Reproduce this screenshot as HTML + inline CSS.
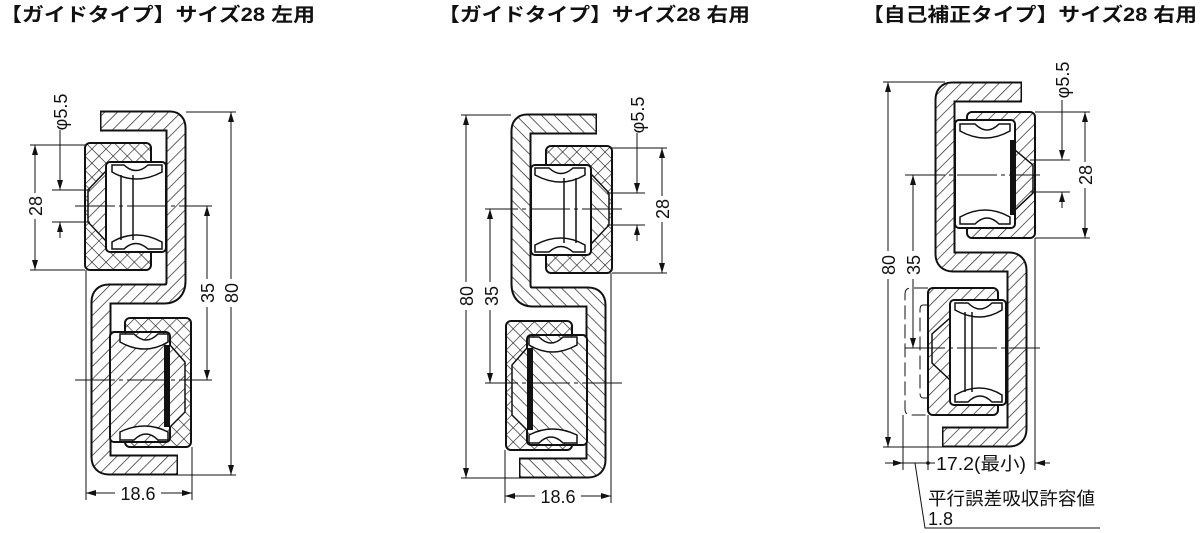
<!DOCTYPE html>
<html><head><meta charset="utf-8"><style>
html,body{margin:0;padding:0;background:#fff;width:1201px;height:533px;overflow:hidden}
svg{display:block}
text{font-family:"Liberation Sans","Noto Sans CJK JP",sans-serif;fill:#111}
</style></head><body>
<svg width="1201" height="533" viewBox="0 0 1201 533" xmlns="http://www.w3.org/2000/svg">
<defs>
<pattern id="h" width="9" height="9" patternUnits="userSpaceOnUse" patternTransform="rotate(45)">
<rect width="9" height="9" fill="#fff"/><line x1="0" y1="0" x2="0" y2="9" stroke="#222" stroke-width="1.4"/></pattern>
<pattern id="x" width="10" height="10" patternUnits="userSpaceOnUse" patternTransform="rotate(45)">
<rect width="10" height="10" fill="#fff"/><line x1="0" y1="0" x2="0" y2="10" stroke="#222" stroke-width="1.3"/><line x1="0" y1="0" x2="10" y2="0" stroke="#222" stroke-width="1.3"/></pattern>
<marker id="a" viewBox="0 0 10 6" refX="10" refY="3" markerWidth="11" markerHeight="6" orient="auto-start-reverse" markerUnits="userSpaceOnUse"><path d="M0,0 L10,3 L0,6z" fill="#111"/></marker>
<g id="f1">
<path d="M100,121 H170 Q176,121 176,128 V281 Q176,294 164,294 H109 Q101,294 101,302 V457 Q101,465 109,465 H178" fill="none" stroke="#111" stroke-width="21"/>
<path d="M101.5,121 H170 Q176,121 176,128 V281 Q176,294 164,294 H109 Q101,294 101,302 V457 Q101,465 109,465 H176.5" fill="none" stroke="url(#h)" stroke-width="17"/>
<rect x="85" y="143" width="66" height="127" rx="5" fill="url(#x)" stroke="#111" stroke-width="2"/>
<path d="M88,190 L105,172 H120 V240 H105 L88,222z" fill="url(#h)" stroke="#111" stroke-width="1.5"/>
<rect x="106" y="162" width="60" height="90" rx="4" fill="#fff" stroke="#111" stroke-width="2"/>
<path d="M112,165 H124 Q136,176 148,165 H162 V172 Q136,186 112,172z M112,249 H124 Q136,238 148,249 H162 V242 Q136,228 112,242z" fill="#fff" stroke="#111" stroke-width="1.5"/>
<line x1="121" y1="175" x2="121" y2="240" stroke="#111" stroke-width="1.5"/>
<line x1="133" y1="175" x2="133" y2="240" stroke="#111" stroke-width="1.5"/>
<rect x="125" y="318" width="66" height="129" rx="5" fill="url(#x)" stroke="#111" stroke-width="2"/>
<rect x="110" y="332" width="60" height="110" rx="4" fill="url(#h)" stroke="#111" stroke-width="2"/>
<path d="M120,334 H134 Q146,346 158,334 H168 V342 Q145,356 120,342z M120,440 H134 Q146,428 158,440 H168 V432 Q145,420 120,432z" fill="#fff" stroke="#111" stroke-width="1.5"/>
<rect x="164" y="345" width="6" height="82" fill="#111"/>
<path d="M170,345 L185,362 V412 L170,427" fill="url(#h)" stroke="#111" stroke-width="1.5"/>
<line x1="75" y1="206" x2="212" y2="206" stroke="#111" stroke-width="1" stroke-dasharray="40,4,4,4"/>
<line x1="75" y1="380" x2="212" y2="380" stroke="#111" stroke-width="1" stroke-dasharray="40,4,4,4"/>
<g stroke="#111" stroke-width="1" fill="none">
<line x1="30" y1="145" x2="85" y2="145"/><line x1="30" y1="270" x2="85" y2="270"/>
<line x1="35" y1="145" x2="35" y2="270" marker-start="url(#a)" marker-end="url(#a)"/>
<line x1="52" y1="190" x2="90" y2="190"/><line x1="52" y1="222" x2="90" y2="222"/>
<line x1="60" y1="130" x2="60" y2="190" marker-end="url(#a)"/><line x1="60" y1="238" x2="60" y2="222" marker-end="url(#a)"/>
<line x1="186" y1="112" x2="236" y2="112"/><line x1="178" y1="475" x2="236" y2="475"/>
<line x1="231" y1="112" x2="231" y2="475" marker-start="url(#a)" marker-end="url(#a)"/>
<line x1="207" y1="206" x2="207" y2="380" marker-start="url(#a)" marker-end="url(#a)"/>
<line x1="86" y1="270" x2="86" y2="500"/><line x1="192" y1="447" x2="192" y2="500"/>
<line x1="86" y1="493" x2="192" y2="493" marker-start="url(#a)" marker-end="url(#a)"/>
</g>
</g>
</defs>

<text x="0" y="21" font-size="19" font-weight="bold" textLength="315" lengthAdjust="spacingAndGlyphs">【ガイドタイプ】サイズ28 左用</text>
<text x="438" y="21" font-size="19" font-weight="bold" textLength="312" lengthAdjust="spacingAndGlyphs">【ガイドタイプ】サイズ28 右用</text>
<text x="862" y="21" font-size="19" font-weight="bold" textLength="335" lengthAdjust="spacingAndGlyphs">【自己補正タイプ】サイズ28 右用</text>

<use href="#f1"/>
<use href="#f1" transform="translate(697,3) scale(-1,1)"/>

<g font-size="18">
<rect x="27" y="193" width="16" height="26" fill="#fff"/>
<text transform="translate(42,206) rotate(-90)" text-anchor="middle">28</text>
<text transform="translate(67,112) rotate(-90)" text-anchor="middle">φ5.5</text>
<rect x="199" y="279" width="16" height="28" fill="#fff"/>
<text transform="translate(214,293) rotate(-90)" text-anchor="middle">35</text>
<rect x="223" y="279" width="16" height="28" fill="#fff"/>
<text transform="translate(238,293) rotate(-90)" text-anchor="middle">80</text>
<rect x="115" y="483" width="46" height="20" fill="#fff"/>
<text x="138" y="500" text-anchor="middle">18.6</text>
</g>
<g font-size="18">
<rect x="654" y="196" width="16" height="26" fill="#fff"/>
<text transform="translate(669,209) rotate(-90)" text-anchor="middle">28</text>
<text transform="translate(644,115) rotate(-90)" text-anchor="middle">φ5.5</text>
<rect x="482" y="282" width="16" height="28" fill="#fff"/>
<text transform="translate(498,296) rotate(-90)" text-anchor="middle">35</text>
<rect x="458" y="282" width="16" height="28" fill="#fff"/>
<text transform="translate(473,296) rotate(-90)" text-anchor="middle">80</text>
<rect x="535" y="486" width="46" height="20" fill="#fff"/>
<text x="558" y="503" text-anchor="middle">18.6</text>
</g>

<g>
<path d="M1022,92 H952 Q945,92 945,100 V254 Q945,262 953,262 H1009 Q1017,262 1017,270 V429 Q1017,437 1009,437 H942" fill="none" stroke="#111" stroke-width="21"/>
<path d="M1020.5,92 H952 Q945,92 945,100 V254 Q945,262 953,262 H1009 Q1017,262 1017,270 V429 Q1017,437 1009,437 H943.5" fill="none" stroke="url(#h)" stroke-width="17"/>
<rect x="967" y="112" width="68" height="126" rx="5" fill="url(#h)" stroke="#111" stroke-width="2"/>
<rect x="955" y="120" width="60" height="108" rx="4" fill="#fff" stroke="#111" stroke-width="2"/>
<path d="M960,124 H975 Q987,136 999,124 H1010 V131 Q985,145 960,131z M960,224 H975 Q987,212 999,224 H1010 V217 Q985,203 960,217z" fill="#fff" stroke="#111" stroke-width="1.5"/>
<rect x="1010" y="140" width="5" height="75" fill="#111"/>
<path d="M1015,150 L1033,165 V193 L1015,210" fill="none" stroke="#111" stroke-width="1.5"/>
<rect x="928" y="288" width="70" height="127" rx="5" fill="url(#h)" stroke="#111" stroke-width="2"/>
<rect x="950" y="300" width="56" height="105" rx="4" fill="#fff" stroke="#111" stroke-width="2"/>
<path d="M955,303 H968 Q980,315 992,303 H1002 V310 Q980,324 955,310z M955,402 H968 Q980,390 992,402 H1002 V395 Q980,381 955,395z" fill="#fff" stroke="#111" stroke-width="1.5"/>
<line x1="965" y1="312" x2="965" y2="392" stroke="#111" stroke-width="1.5"/>
<line x1="972" y1="312" x2="972" y2="392" stroke="#111" stroke-width="1.5"/>
<path d="M950,318 L932,334 V363 L950,380" fill="none" stroke="#111" stroke-width="1.5"/>
<path d="M928,288 H911 Q905,288 905,294 V409 Q905,415 911,415 H928" fill="none" stroke="#111" stroke-width="1" stroke-dasharray="14,5"/>
<path d="M928,305 H923 Q920,305 920,310 V393 Q920,398 923,398 H928" fill="none" stroke="#111" stroke-width="1" stroke-dasharray="14,5"/>
<line x1="905" y1="175" x2="1040" y2="175" stroke="#111" stroke-width="1" stroke-dasharray="40,4,4,4"/>
<line x1="905" y1="348" x2="1040" y2="348" stroke="#111" stroke-width="1" stroke-dasharray="40,4,4,4"/>
<g stroke="#111" stroke-width="1" fill="none">
<line x1="883" y1="82" x2="945" y2="82"/><line x1="883" y1="447" x2="942" y2="447"/>
<line x1="888" y1="82" x2="888" y2="447" marker-start="url(#a)" marker-end="url(#a)"/>
<line x1="913" y1="175" x2="913" y2="348" marker-start="url(#a)" marker-end="url(#a)"/>
<line x1="1035" y1="112" x2="1090" y2="112"/><line x1="1035" y1="238" x2="1090" y2="238"/>
<line x1="1085" y1="112" x2="1085" y2="238" marker-start="url(#a)" marker-end="url(#a)"/>
<line x1="1030" y1="160" x2="1070" y2="160"/><line x1="1030" y1="192" x2="1070" y2="192"/>
<line x1="1062" y1="100" x2="1062" y2="160" marker-end="url(#a)"/><line x1="1062" y1="208" x2="1062" y2="192" marker-end="url(#a)"/>
<line x1="903" y1="415" x2="903" y2="470"/><line x1="928" y1="415" x2="928" y2="470"/><line x1="1035" y1="238" x2="1035" y2="470"/>
<line x1="885" y1="463" x2="903" y2="463" marker-end="url(#a)"/>
<line x1="1050" y1="463" x2="1035" y2="463" marker-end="url(#a)"/>
<line x1="903" y1="463" x2="935" y2="463"/>
<polyline points="915,463 925,528 1100,528"/>
</g>
<circle cx="928" cy="463" r="1.8" fill="#111"/>
<g font-size="18">
<rect x="880" y="251" width="16" height="28" fill="#fff"/>
<text transform="translate(895,265) rotate(-90)" text-anchor="middle">80</text>
<rect x="905" y="251" width="16" height="28" fill="#fff"/>
<text transform="translate(920,265) rotate(-90)" text-anchor="middle">35</text>
<rect x="1077" y="162" width="16" height="26" fill="#fff"/>
<text transform="translate(1092,175) rotate(-90)" text-anchor="middle">28</text>
<text transform="translate(1069,80) rotate(-90)" text-anchor="middle">φ5.5</text>
<text x="936" y="470" textLength="90" lengthAdjust="spacingAndGlyphs">17.2(最小)</text>
<text x="928" y="505" textLength="167" lengthAdjust="spacingAndGlyphs">平行誤差吸収許容値</text>
<text x="928" y="525">1.8</text>
</g>
</g>
</svg>
</body></html>
